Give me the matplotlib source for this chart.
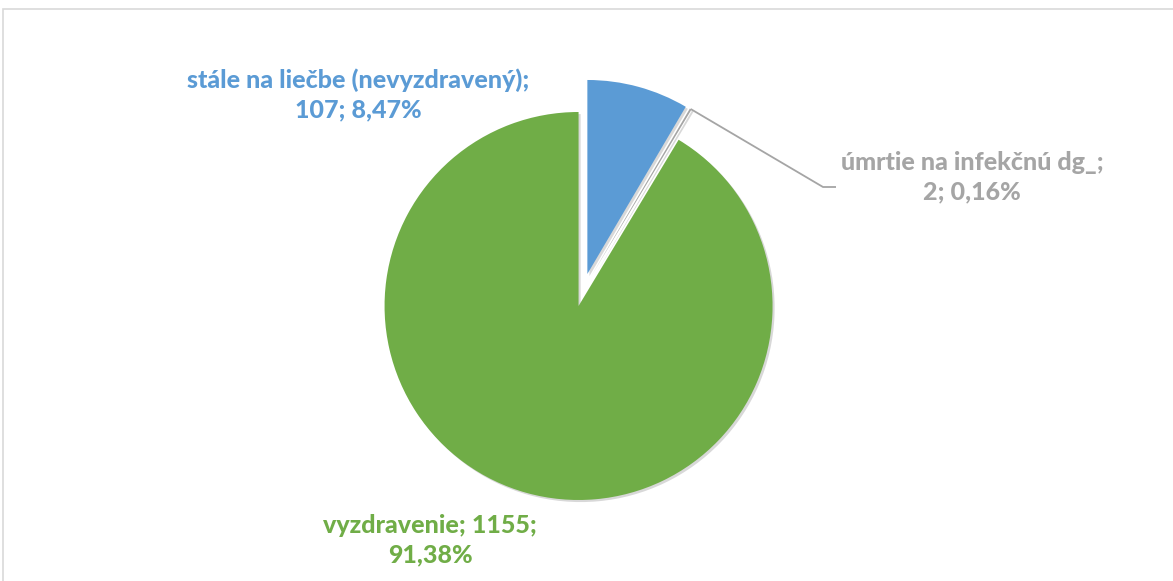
import math

import matplotlib
matplotlib.use("Agg")
import matplotlib.pyplot as plt
import matplotlib.patheffects as pe
from matplotlib.patches import Rectangle

# Values
labels = ["stále na liečbe (nevyzdravený)", "úmrtie na infekčnú dg_", "vyzdravenie"]
counts = [107, 2, 1155]
percents = ["8,47%", "0,16%", "91,38%"]
colors = ["#5b9bd5", "#a5a5a5", "#70ad47"]

plt.rcParams["font.family"] = ["Lato", "DejaVu Sans"]

W, H = 1173, 581
fig = plt.figure(figsize=(W / 100, H / 100), dpi=100)
ax = fig.add_axes([0, 0, 1, 1])

# chart frame (only top and left edge are visible)
ax.add_patch(Rectangle((3, -20), W + 40, H - 9 + 20, fill=False,
                       edgecolor="#d9d9d9", linewidth=1.2))

radius = 194
center = (583, H - 290)
# explode is in data units here (pixels), not a fraction of the radius
wedges, _ = ax.pie(
    counts,
    colors=colors,
    startangle=90,
    counterclock=False,
    explode=[16.6] * 3,
    radius=radius,
    center=center,
    wedgeprops=dict(linewidth=0),
    frame=True,
)
ax.set_xlim(0, W)
ax.set_ylim(0, H)
ax.set_aspect("equal")
ax.axis("off")

for w in wedges:
    w.set_path_effects([
        pe.SimplePatchShadow(offset=(1.5, -1.5), shadow_rgbFace="#808080", alpha=0.3),
        pe.Normal(),
    ])

font = dict(fontsize=18, fontweight=900, ha="center", va="center", linespacing=1.35)

ax.text(358, H - 95, f"{labels[0]};\n{counts[0]}; {percents[0]}", color=colors[0], **font)
ax.text(430, H - 540, f"{labels[2]}; {counts[2]};\n{percents[2]}", color=colors[2], **font)
ax.text(972, H - 177, f"{labels[1]};\n{counts[1]}; {percents[1]}", color=colors[1], **font)

# leader line from the tip of the small grey slice
g = wedges[1]
mid = math.radians((g.theta1 + g.theta2) / 2)
tip = (g.center[0] + g.r * math.cos(mid), g.center[1] + g.r * math.sin(mid))
ax.plot([tip[0], 823, 836], [tip[1], H - 187, H - 187], color="#a5a5a5", linewidth=1.3,
        solid_capstyle="butt")

fig.savefig("out.png", dpi=100)
